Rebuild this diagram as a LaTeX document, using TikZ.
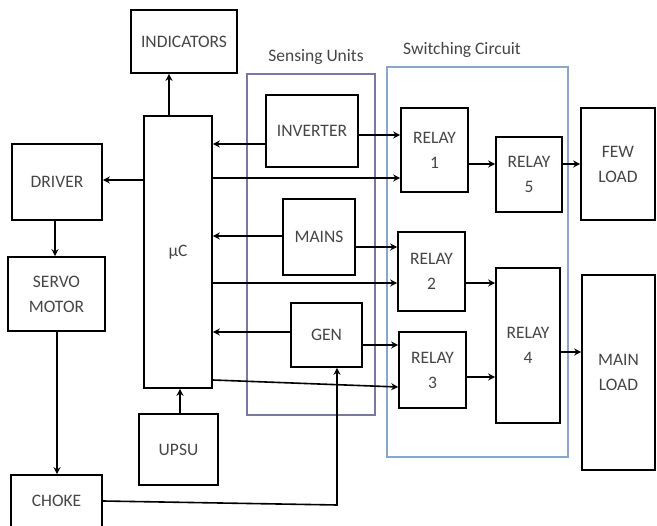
\documentclass[tikz,border=0pt]{standalone}
\usepackage{fontspec}
\setmainfont{Carlito}
\usetikzlibrary{fit,arrows.meta}
\definecolor{txt}{HTML}{454545}
\definecolor{sensc}{HTML}{7A78A8}
\definecolor{swc}{HTML}{8AA6CC}
\tikzset{
  blk/.style={draw=black, line width=1.6pt, inner sep=0pt},
  tx/.style={text=txt, align=center, font=\fontsize{17.5}{25}\selectfont},
  grp/.style={draw=#1, line width=1.2pt, inner sep=0pt},
  lbl/.style={text=txt, font=\fontsize{17.5}{20}\selectfont},
  arr/.style={line width=1.6pt, -{Stealth[length=7pt,width=7pt]}},
}
\begin{document}
\begin{tikzpicture}[x=1pt,y=-1pt]
\useasboundingbox (0,0) rectangle (657,526);
% groups
\node[grp=sensc, fit={(247,74) (375,415)}] (sens) {};
\node[grp=swc, fit={(387,67) (568,457)}] (sw) {};
\node[lbl] (senslbl) at (316,57) {Sensing Units};
\node[lbl] (swlbl) at (462,50) {Switching Circuit};
% blocks
\node[blk, fit={(131,10) (237,73)}] (ind) {};
\node[tx] at (ind.center) {INDICATORS};
\node[blk, fit={(144,116) (212,388)}] (uc) {};
\node[tx] at (uc.center) {µC};
\node[blk, fit={(12,144) (102,220)}] (drv) {};
\node[tx] at (drv.center) {DRIVER};
\node[blk, fit={(8,257) (105,331)}] (servo) {};
\node[tx] at (servo.center) {SERVO\\MOTOR};
\node[blk, fit={(11,475) (102,545)}] (choke) {};
\node[tx] at (56.5,501) {CHOKE};
\node[blk, fit={(139,414) (218,485)}] (ups) {};
\node[tx] at (ups.center) {UPSU};
\node[blk, fit={(266,95) (358,167)}] (inv) {};
\node[tx] at (inv.center) {INVERTER};
\node[blk, fit={(283,199) (355,275)}] (mains) {};
\node[tx] at (mains.center) {MAINS};
\node[blk, fit={(291,303) (362,367)}] (gen) {};
\node[tx] at (gen.center) {GEN};
\node[blk, fit={(401,108) (468,192)}] (r1) {};
\node[tx] at (r1.center) {RELAY\\1};
\node[blk, fit={(496,137) (562,212)}] (r5) {};
\node[tx] at (r5.center) {RELAY\\5};
\node[blk, fit={(581,108) (655,220)}] (few) {};
\node[tx] at (few.center) {FEW\\LOAD};
\node[blk, fit={(398,232) (465,311)}] (r2) {};
\node[tx] at (r2.center) {RELAY\\2};
\node[blk, fit={(399,332) (466,408)}] (r3) {};
\node[tx] at (r3.center) {RELAY\\3};
\node[blk, fit={(496,268) (560,423)}] (r4) {};
\node[tx] at (r4.center) {RELAY\\4};
\node[blk, fit={(582,275) (655,470)}] (main) {};
\node[tx] at (main.center) {MAIN\\LOAD};
% connectors
\draw[arr] (uc.north -| 169,0) -- (ind.south -| 169,0);
\draw[arr] (uc.west |- 0,180) -- (drv.east |- 0,180);
\draw[arr] (drv.south -| 55,0) -- (servo.north -| 55,0);
\draw[arr] (servo.south -| 57,0) -- (choke.north -| 57,0);
\draw[arr] (ups.north -| 180,0) -- (uc.south -| 180,0);
\draw[arr] (inv.west |- 0,144) -- (uc.east |- 0,144);
\draw[arr] (uc.east |- 0,178) -- (r1.west |- 0,178);
\draw[arr] (inv.east |- 0,135) -- (r1.west |- 0,135);
\draw[arr] (mains.west |- 0,236) -- (uc.east |- 0,236);
\draw[arr] (mains.east |- 0,247) -- (r2.west |- 0,247);
\draw[arr] (uc.east |- 0,283) -- (r2.west |- 0,283);
\draw[arr] (gen.west |- 0,332) -- (uc.east |- 0,332);
\draw[arr] (gen.east |- 0,345) -- (r3.west |- 0,345);
\draw[arr] (uc.east |- 0,380) -- (r3.west |- 0,387);
\coordinate (bend) at (337,505);
\draw[arr] (choke.east |- 0,501) -- (bend) -- (gen.south -| bend);
\draw[arr] (r1.east |- 0,164) -- (r5.west |- 0,164);
\draw[arr] (r5.east |- 0,164) -- (few.west |- 0,164);
\draw[arr] (r2.east |- 0,283) -- (r4.west |- 0,283);
\draw[arr] (r3.east |- 0,377) -- (r4.west |- 0,377);
\draw[arr] (r4.east |- 0,352) -- (main.west |- 0,352);
\end{tikzpicture}
\end{document}
